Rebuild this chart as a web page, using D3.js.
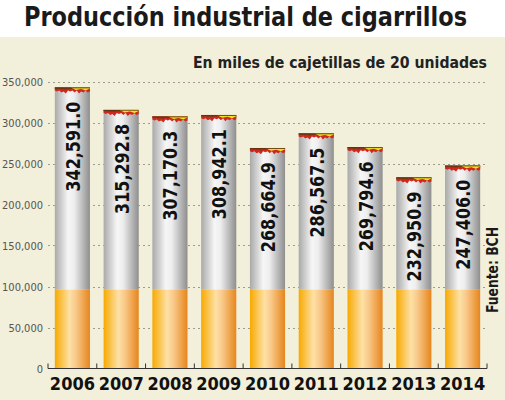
<!DOCTYPE html>
<html lang="es">
<head>
<meta charset="utf-8">
<title>Producción industrial de cigarrillos</title>
<script src="https://d3js.org/d3.v7.min.js"></script>
<style>
  body { margin: 0; background: #fff; }
  svg { display: block; }
  text { font-family: "DejaVu Sans Condensed", "DejaVu Sans", sans-serif; }
</style>
</head>
<body>
<script>
// datos
const years = ["2006", "2007", "2008", "2009", "2010", "2011", "2012", "2013", "2014"];
const production = [342591.0, 315292.8, 307170.3, 308942.1, 268664.9, 286567.5, 269794.6, 232950.9, 247406.0];
const filterLevel = 96000; // parte naranja (filtro), igual en todas las barras
const yTicks = [0, 50000, 100000, 150000, 200000, 250000, 300000, 350000];

const width = 505, height = 400;
const plotLeft = 48, plotRight = 487, plotBottom = 368.5, plotTop = 81.5;

const svg = d3.select("body").append("svg")
  .attr("width", width)
  .attr("height", height);

// gradientes del cigarrillo
const defs = svg.append("defs");
function grad(id, stops) {
  const g = defs.append("linearGradient").attr("id", id)
    .attr("x1", "0%").attr("x2", "100%").attr("y1", "0%").attr("y2", "0%");
  stops.forEach(s => g.append("stop").attr("offset", s[0]).attr("stop-color", s[1]));
}
grad("paper", [["0%", "#a9a9a9"], ["38%", "#f6f6f6"], ["55%", "#eeeeee"], ["100%", "#8e8e8e"]]);
grad("filter", [["0%", "#f8a900"], ["42%", "#fde1a6"], ["60%", "#f9c98a"], ["100%", "#e6861c"]]);

// fondo
svg.append("rect").attr("x", 0).attr("y", 37).attr("width", width).attr("height", height - 37)
  .attr("fill", "#f2efda");

svg.append("text")
  .attr("x", 24).attr("y", 26)
  .attr("textLength", 443).attr("lengthAdjust", "spacingAndGlyphs")
  .style("font-size", "26px").style("font-weight", "bold").attr("fill", "#1a1a1a")
  .text("Producción industrial de cigarrillos");

svg.append("text")
  .attr("x", 487).attr("y", 68).attr("text-anchor", "end")
  .attr("textLength", 294).attr("lengthAdjust", "spacingAndGlyphs")
  .style("font-size", "16px").style("font-weight", "bold").attr("fill", "#222")
  .text("En miles de cajetillas de 20 unidades");

const x = d3.scaleBand().domain(years).range([plotLeft, plotRight])
  .paddingInner(0.28).paddingOuter(0.14);
const y = d3.scaleLinear().domain([0, 350000]).range([plotBottom, plotTop]);

// rejilla y eje Y
const yAxis = svg.append("g")
  .attr("transform", `translate(${plotLeft},0)`)
  .call(d3.axisLeft(y).tickValues(yTicks).tickSize(0).tickPadding(5).tickFormat(d3.format(",")));
yAxis.select(".domain").remove();
yAxis.selectAll("text").attr("fill", "#555").style("font-size", "11px")
  .style("font-family", "'DejaVu Sans Condensed', sans-serif");

svg.append("g").selectAll("line")
  .data(yTicks.filter(d => d > 0))
  .join("line")
  .attr("x1", plotLeft).attr("x2", plotRight)
  .attr("y1", d => Math.round(y(d)) + 0.5).attr("y2", d => Math.round(y(d)) + 0.5)
  .attr("stroke", "#9d9b92").attr("stroke-width", 1).attr("stroke-dasharray", "2,3");

// barras
const bars = svg.append("g").selectAll("g")
  .data(years.map((yr, i) => ({ year: yr, value: production[i] })))
  .join("g");

bars.append("rect")
  .attr("x", d => x(d.year)).attr("width", x.bandwidth())
  .attr("y", d => y(d.value)).attr("height", d => y(filterLevel) - y(d.value))
  .attr("fill", "url(#paper)");

bars.append("rect")
  .attr("x", d => x(d.year)).attr("width", x.bandwidth())
  .attr("y", y(filterLevel)).attr("height", plotBottom - y(filterLevel))
  .attr("fill", "url(#filter)");

// brasa en la punta
const w = x.bandwidth();
const jag = [3, 4, 3, 5, 4, 6, 3, 4, 3, 5, 3, 6, 4, 5, 3, 5, 4];
function emberPath(x0, y0, depthScale) {
  let p = `M${x0},${y0}`;
  jag.forEach((j, k) => {
    p += `L${x0 + w * k / (jag.length - 1)},${y0 + j * depthScale}`;
  });
  p += `L${x0 + w},${y0}Z`;
  return p;
}
bars.append("path")
  .attr("d", d => emberPath(x(d.year), y(d.value), 1))
  .attr("fill", "#d3261c");
bars.append("path")
  .attr("d", d => emberPath(x(d.year), y(d.value), 0.4))
  .attr("fill", "#7a3a16");
bars.append("path")
  .attr("d", d => `M${x(d.year) + w * 0.45},${y(d.value)}L${x(d.year) + w * 0.6},${y(d.value) + 2.5}L${x(d.year) + w * 0.75},${y(d.value) + 1.5}L${x(d.year) + w * 0.88},${y(d.value) + 3}L${x(d.year) + w},${y(d.value) + 1}L${x(d.year) + w},${y(d.value)}Z`)
  .attr("fill", "#f2e21e");
bars.append("line")
  .attr("x1", d => x(d.year)).attr("x2", d => x(d.year) + w)
  .attr("y1", d => y(d.value) + 0.3).attr("y2", d => y(d.value) + 0.3)
  .attr("stroke", "#5a3010").attr("stroke-width", 0.8);

// valores
bars.append("text")
  .attr("transform", d => `translate(${x(d.year) + w / 2 + 7.5},${y(d.value) + 14}) rotate(-90)`)
  .attr("text-anchor", "end")
  .attr("textLength", 90).attr("lengthAdjust", "spacingAndGlyphs")
  .style("font-size", "20px").style("font-weight", "bold").attr("fill", "#111")
  .text(d => d3.format(",.1f")(d.value));

// eje X
const xAxis = svg.append("g")
  .attr("transform", `translate(0,${plotBottom})`)
  .call(d3.axisBottom(x).tickSize(0).tickPadding(9));
xAxis.select(".domain").attr("stroke", "#333").attr("d", `M${plotLeft},0H${plotRight}`);
xAxis.selectAll("text").style("font-size", "18px").style("font-weight", "bold")
  .style("font-family", "'DejaVu Sans Condensed', sans-serif").attr("fill", "#111");

const boundaries = years.map(yr => x(yr) - x.step() * 0.14).concat([plotRight]);
svg.append("g").selectAll("line")
  .data(boundaries)
  .join("line")
  .attr("x1", d => d).attr("x2", d => d)
  .attr("y1", plotBottom).attr("y2", plotBottom - 5)
  .attr("stroke", "#333");

svg.append("text")
  .attr("transform", "translate(498,313) rotate(-90)")
  .attr("textLength", 86).attr("lengthAdjust", "spacingAndGlyphs")
  .style("font-size", "15px").style("font-weight", "bold").attr("fill", "#1a1a1a")
  .text("Fuente: BCH");
</script>
</body>
</html>
